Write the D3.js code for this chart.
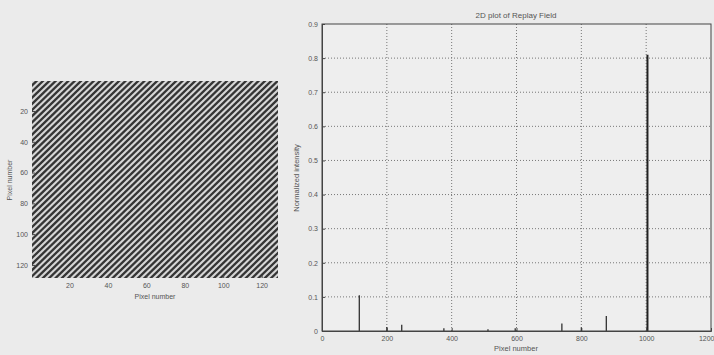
<!DOCTYPE html>
<html>
<head>
<meta charset="utf-8">
<script src="https://cdn.jsdelivr.net/npm/d3@7"></script>
<style>
  body { margin: 0; background: #ebebeb; }
  svg { display: block; }
  text { font-family: "Liberation Sans", Arial, sans-serif; fill: #555; }
  .axis path, .axis line { stroke: #444; }
  .axis text { font-size: 7px; fill: #555; }
</style>
</head>
<body>
<div id="chart"></div>
<script>
// hologram image (left): a blazed grating, 128 x 128 pixels
var imgSize = 128
var stripePeriodX = 3.3   // image pixels per stripe along a row
var stripePeriodY = 4.0   // image pixels per stripe along a column
var imgTicks = [20, 40, 60, 80, 100, 120]

// replay field profile (right)
var peakPixel = [115, 200, 246, 376, 512, 596, 740, 800, 877, 1004]
var peakValue = [0.105, 0.012, 0.018, 0.008, 0.005, 0.008, 0.022, 0.01, 0.044, 0.81]
var xTicks = [0, 200, 400, 600, 800, 1000, 1200]
var yTicks = [0, 0.1, 0.2, 0.3, 0.4, 0.5, 0.6, 0.7, 0.8, 0.9]

var width = 714,
    height = 355

var svg = d3.select('#chart').append('svg')
    .attr('width', width)
    .attr('height', height)

// ---------- left: image ----------
var xi = d3.scaleLinear().domain([0.5, imgSize + 0.5]).range([32, 278])
var yi = d3.scaleLinear().domain([0.5, imgSize + 0.5]).range([81, 278])

var defs = svg.append('defs')
defs.append('clipPath').attr('id', 'imgclip')
    .append('rect')
    .attr('x', xi(0.5)).attr('y', yi(0.5))
    .attr('width', xi(imgSize + 0.5) - xi(0.5))
    .attr('height', yi(imgSize + 0.5) - yi(0.5))
defs.append('filter').attr('id', 'soft')
    .append('feGaussianBlur').attr('stdDeviation', 0.45)

var img = svg.append('g').attr('clip-path', 'url(#imgclip)')
img.append('rect')
    .attr('x', xi(0.5)).attr('y', yi(0.5))
    .attr('width', xi(imgSize + 0.5) - xi(0.5))
    .attr('height', yi(imgSize + 0.5) - yi(0.5))
    .attr('fill', '#d6d6d6')

// one dark stripe per grating period: col/Px + row/Py = k
var nStripes = Math.ceil((imgSize + 1) / stripePeriodX + (imgSize + 1) / stripePeriodY) + 1
var stripes = d3.range(-1, nStripes)
img.append('g').attr('filter', 'url(#soft)')
    .selectAll('line')
    .data(stripes)
    .enter().append('line')
    .attr('x1', xi(0))
    .attr('y1', function (k) { return yi(stripePeriodY * (k - 0 / stripePeriodX)) })
    .attr('x2', xi(imgSize + 1))
    .attr('y2', function (k) { return yi(stripePeriodY * (k - (imgSize + 1) / stripePeriodX)) })
    .attr('stroke', '#353535')
    .attr('stroke-width', 2.3)

svg.append('g')
    .attr('class', 'axis')
    .attr('transform', 'translate(0,278)')
    .call(d3.axisBottom(xi).tickValues(imgTicks).tickSize(-3).tickPadding(5))
    .call(function (g) { g.select('.domain').remove() })

svg.append('g')
    .attr('class', 'axis')
    .attr('transform', 'translate(32,0)')
    .call(d3.axisLeft(yi).tickValues(imgTicks).tickSize(-3).tickPadding(4))
    .call(function (g) { g.select('.domain').remove() })

svg.append('text')
    .attr('x', 155).attr('y', 299)
    .attr('text-anchor', 'middle')
    .attr('font-size', 7)
    .text('Pixel number')

svg.append('text')
    .attr('transform', 'translate(12,180) rotate(-90)')
    .attr('text-anchor', 'middle')
    .attr('font-size', 7)
    .text('Pixel number')

// ---------- right: replay field ----------
var x = d3.scaleLinear().domain([0, 1200]).range([322, 711])
var y = d3.scaleLinear().domain([0, 0.9]).range([331, 24])

svg.append('rect')
    .attr('x', x(0)).attr('y', y(0.9))
    .attr('width', x(1200) - x(0))
    .attr('height', y(0) - y(0.9))
    .attr('fill', '#eeeeee')

// grid
svg.append('g').selectAll('line')
    .data(xTicks.slice(1, -1))
    .enter().append('line')
    .attr('x1', function (d) { return x(d) }).attr('x2', function (d) { return x(d) })
    .attr('y1', y(0)).attr('y2', y(0.9))
    .attr('stroke', '#777')
    .attr('stroke-dasharray', '1,2')

svg.append('g').selectAll('line')
    .data(yTicks.slice(1, -1))
    .enter().append('line')
    .attr('x1', x(0)).attr('x2', x(1200))
    .attr('y1', function (d) { return y(d) }).attr('y2', function (d) { return y(d) })
    .attr('stroke', '#777')
    .attr('stroke-dasharray', '1,2')

// spikes
var peaks = peakPixel.map(function (p, i) { return { pixel: p, value: peakValue[i] } })
svg.append('g').selectAll('line')
    .data(peaks)
    .enter().append('line')
    .attr('x1', function (d) { return x(d.pixel) }).attr('x2', function (d) { return x(d.pixel) })
    .attr('y1', y(0)).attr('y2', function (d) { return y(d.value) })
    .attr('stroke', '#222')
    .attr('stroke-width', function (d) { return d.value > 0.5 ? 2 : 1.2 })

// box
svg.append('rect')
    .attr('x', x(0)).attr('y', y(0.9))
    .attr('width', x(1200) - x(0))
    .attr('height', y(0) - y(0.9))
    .attr('fill', 'none')
    .attr('stroke', '#444')

svg.append('g')
    .attr('class', 'axis')
    .attr('transform', 'translate(0,' + y(0) + ')')
    .call(d3.axisBottom(x).tickValues(xTicks).tickFormat(d3.format('d')).tickSize(-3).tickPadding(5))
    .call(function (g) {
        g.selectAll('.tick text').filter(function (d) { return d === 1200 })
            .attr('text-anchor', 'end').attr('dx', 3)
    })

svg.append('g')
    .attr('class', 'axis')
    .attr('transform', 'translate(' + x(0) + ',0)')
    .call(d3.axisLeft(y).tickValues(yTicks).tickFormat(function (d) { return d === 0 ? '0' : d3.format('.1f')(d) }).tickSize(-3).tickPadding(4))

svg.append('text')
    .attr('x', 516).attr('y', 18)
    .attr('text-anchor', 'middle')
    .attr('font-size', 8)
    .text('2D plot of Replay Field')

svg.append('text')
    .attr('x', 516).attr('y', 351)
    .attr('text-anchor', 'middle')
    .attr('font-size', 7.5)
    .text('Pixel number')

svg.append('text')
    .attr('transform', 'translate(299,178) rotate(-90)')
    .attr('text-anchor', 'middle')
    .attr('font-size', 7.5)
    .text('Normalized intensity')
</script>
</body>
</html>
